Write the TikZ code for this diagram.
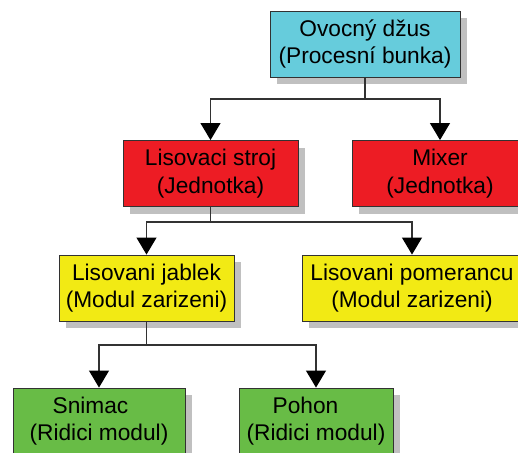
\documentclass[tikz,border=0pt]{standalone}
\usepackage{fontspec}
\setmainfont{Liberation Sans}
\usetikzlibrary{arrows.meta,shadows,calc}

\definecolor{cellcyan}{RGB}{102,204,220}
\definecolor{unitred}{RGB}{237,28,36}
\definecolor{modyellow}{RGB}{242,234,20}
\definecolor{ctrlgreen}{RGB}{104,188,70}
\definecolor{edgegray}{RGB}{50,50,50}
\definecolor{shadowgray}{RGB}{192,192,192}

\tikzset{
  block/.style={draw=edgegray, line width=0.9pt, align=center,
    minimum height=66pt, inner sep=0pt,
    font=\fontsize{22.7}{27.5}\selectfont,
    general shadow={fill=shadowgray, shadow xshift=7pt, shadow yshift=-7pt}},
  link/.style={draw=edgegray, line width=1.1pt},
  feed/.style={link, -{Triangle[width=20pt,length=17pt,color=black,fill=black]}}
}

\begin{document}
\begin{tikzpicture}[x=1pt,y=-1pt]
  \useasboundingbox (0,0) rectangle (518,452);
  \clip (0,0) rectangle (518,452);

  % process cell
  \node[block, fill=cellcyan, minimum width=190pt] (cell) at (365,44)
    {Ovocný džus\\(Procesní bunka)};

  % units
  \node[block, fill=unitred, minimum width=175pt] (press) at (210.5,173.5)
    {Lisovaci stroj\\(Jednotka)};
  \node[block, fill=unitred, minimum width=176pt] (mixer) at (440,173.5)
    {Mixer\\(Jednotka)};

  % equipment modules
  \node[block, fill=modyellow, minimum width=175pt] (apple) at (146.5,288)
    {Lisovani jablek\\(Modul zarizeni)};
  \node[block, fill=modyellow, minimum width=220pt] (orange) at (412,288)
    {Lisovani pomerancu\\(Modul zarizeni)};

  % control modules
  \node[block, fill=ctrlgreen, minimum width=172pt] (sensor) at (99,421)
    {Snimac\hspace*{17pt}\\(Ridici modul)};
  \node[block, fill=ctrlgreen, minimum width=154pt] (drive) at (316,421)
    {Pohon\hspace*{21pt}\\(Ridici modul)};

  % branching connectors
  \coordinate (b1) at (cell.south |- 0,99);
  \draw[link] (cell.south) -- (b1);
  \draw[feed] (b1) -| (press.north);
  \draw[feed] (b1) -| (mixer.north);

  \coordinate (b2) at (press.south |- 0,222);
  \draw[link] (press.south) -- (b2);
  \draw[feed] (b2) -| (apple.north);
  \draw[feed] (b2) -| (orange.north);

  \coordinate (b3) at (apple.south |- 0,345);
  \draw[link] (apple.south) -- (b3);
  \draw[feed] (b3) -| (sensor.north);
  \draw[feed] (b3) -| (drive.north);
\end{tikzpicture}
\end{document}
